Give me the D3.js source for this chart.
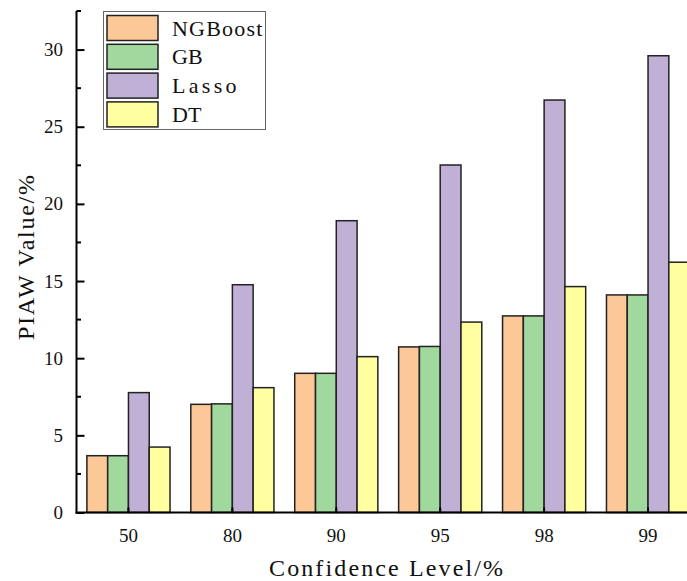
<!DOCTYPE html>
<html>
<head>
<meta charset="utf-8">
<script src="https://cdnjs.cloudflare.com/ajax/libs/d3/7.8.5/d3.min.js"></script>
<style>
  body { margin: 0; background: #fff; }
  text { font-family: "Liberation Serif", "DejaVu Serif", serif; fill: #111; }
</style>
</head>
<body>
<svg id="svg" width="687" height="581"></svg>
<script>
// Confidence levels on the x axis
var levels = ["50", "80", "90", "95", "98", "99"];

// Model names, in drawing order
var models = ["NGBoost", "GB", "Lasso", "DT"];

// PIAW value (%) per model, one entry per confidence level
var ngboost = [3.68, 7.01, 9.02, 10.73, 12.74, 14.10];
var gb      = [3.68, 7.04, 9.02, 10.76, 12.74, 14.10];
var lasso   = [7.77, 14.76, 18.91, 22.52, 26.73, 29.60];
var dt      = [4.24, 8.09, 10.10, 12.34, 14.64, 16.22];

var yTicks = [0, 5, 10, 15, 20, 25, 30];

var colors = ["#fdc897", "#a0d89e", "#c1b0d6", "#ffff9f"];

var series = [ngboost, gb, lasso, dt];

(function(){
	var svg = d3.select('#svg'),
		left = 76.5,
		bottom = 512.5,
		plotTop = 11,
		right = 700;

	var x0 = d3.scaleBand()
		.domain(levels)
		.range([left, right])
		.paddingInner(0.2)
		.paddingOuter(0.1);

	var x1 = d3.scaleBand()
		.domain(models)
		.range([0, x0.bandwidth()]);

	var y = d3.scaleLinear()
		.domain([0, 32.5])
		.range([bottom, plotTop]);

	// bars
	var groups = svg.append('g')
		.selectAll('g')
		.data(levels)
		.enter()
		.append('g')
		.attr('transform', function(d){ return 'translate(' + x0(d) + ',0)'; });

	groups.selectAll('rect')
		.data(function(d, i){
			return models.map(function(m, j){ return { model: m, value: series[j][i], color: colors[j] }; });
		})
		.enter()
		.append('rect')
		.attr('x', function(d){ return x1(d.model); })
		.attr('y', function(d){ return y(d.value); })
		.attr('width', x1.bandwidth())
		.attr('height', function(d){ return bottom - y(d.value); })
		.style('fill', function(d){ return d.color; })
		.style('stroke', '#222')
		.style('stroke-width', 1.5);

	// y axis, ticks pointing inward
	var yAxis = d3.axisRight(y)
		.tickValues(yTicks)
		.tickSize(8)
		.tickFormat('');

	var yg = svg.append('g')
		.attr('transform', 'translate(' + left + ',0)')
		.call(yAxis);
	yg.select('.domain').remove();
	yg.selectAll('line').style('stroke', '#000').style('stroke-width', 2);

	var minor = d3.range(2.5, 33, 5);
	svg.append('g')
		.selectAll('line')
		.data(minor)
		.enter()
		.append('line')
		.attr('x1', left)
		.attr('x2', left + 4.5)
		.attr('y1', function(d){ return y(d); })
		.attr('y2', function(d){ return y(d); })
		.style('stroke', '#000')
		.style('stroke-width', 2);

	svg.append('line')
		.attr('x1', left).attr('x2', left)
		.attr('y1', plotTop).attr('y2', bottom + 1)
		.style('stroke', '#000')
		.style('stroke-width', 2);

	svg.append('g')
		.selectAll('text')
		.data(yTicks)
		.enter()
		.append('text')
		.attr('x', 63)
		.attr('y', function(d){ return y(d) + 6.5; })
		.attr('text-anchor', 'end')
		.style('font-size', '19px')
		.text(function(d){ return d; });

	// x axis
	svg.append('line')
		.attr('x1', left - 1).attr('x2', 687)
		.attr('y1', bottom).attr('y2', bottom)
		.style('stroke', '#000')
		.style('stroke-width', 2);

	svg.append('g')
		.selectAll('line')
		.data(levels)
		.enter()
		.append('line')
		.attr('x1', function(d){ return x0(d) + x0.bandwidth() / 2; })
		.attr('x2', function(d){ return x0(d) + x0.bandwidth() / 2; })
		.attr('y1', bottom)
		.attr('y2', bottom - 5)
		.style('stroke', '#000')
		.style('stroke-width', 2);

	svg.append('g')
		.selectAll('text')
		.data(levels)
		.enter()
		.append('text')
		.attr('x', function(d){ return x0(d) + x0.bandwidth() / 2; })
		.attr('y', 542)
		.attr('text-anchor', 'middle')
		.style('font-size', '19px')
		.text(function(d){ return d; });

	// axis titles
	svg.append('text')
		.attr('x', 269)
		.attr('y', 576)
		.attr('textLength', 234)
		.attr('lengthAdjust', 'spacing')
		.style('font-size', '24px')
		.text('Confidence Level/%');

	svg.append('text')
		.attr('transform', 'translate(34,340) rotate(-90)')
		.attr('textLength', 165)
		.attr('lengthAdjust', 'spacing')
		.style('font-size', '24px')
		.text('PIAW Value/%');

	// legend
	var legend = svg.append('g');
	legend.append('rect')
		.attr('x', 103.5).attr('y', 11.5)
		.attr('width', 162).attr('height', 118)
		.style('fill', '#fff')
		.style('stroke', '#666')
		.style('stroke-width', 1);

	var items = legend.selectAll('g')
		.data(models)
		.enter()
		.append('g')
		.attr('transform', function(d, i){ return 'translate(107,' + (15.5 + i * 28.8) + ')'; });

	items.append('rect')
		.attr('width', 51)
		.attr('height', 25)
		.style('fill', function(d, i){ return colors[i]; })
		.style('stroke', '#222')
		.style('stroke-width', 1.5);

	items.append('text')
		.attr('x', 65)
		.attr('y', 20)
		.style('font-size', '22px')
		.each(function(d){
			if (d.length > 3){
				d3.select(this)
					.attr('textLength', d.length * 12.9)
					.attr('lengthAdjust', 'spacing');
			}
		})
		.text(function(d){ return d; });
})();
</script>
</body>
</html>
